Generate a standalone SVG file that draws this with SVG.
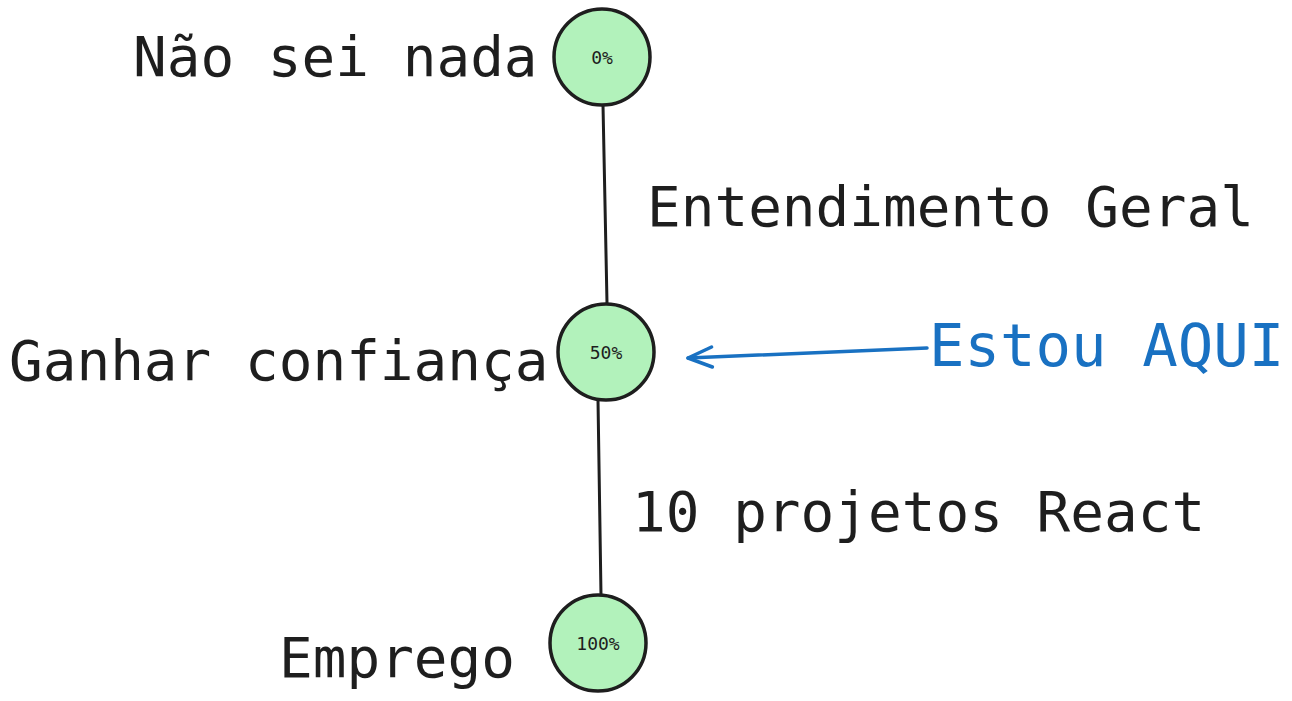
<svg xmlns="http://www.w3.org/2000/svg" width="1292" height="701" viewBox="0 0 1292 701">
<style>
.node{fill:#b2f2bb;stroke:#1e1e1e;stroke-width:3.5}
.big{font-family:"DejaVu Sans Mono","Liberation Mono",monospace;font-size:56px;fill:#1e1e1e}
.small{font-family:"DejaVu Sans Mono","Liberation Mono",monospace;font-size:18px;fill:#1e1e1e;text-anchor:middle}
.edge{stroke:#1e1e1e;stroke-width:3;fill:none;stroke-linecap:round}
.blue{fill:#1971c2;font-size:59px}
</style>
<defs>
<marker id="arr" viewBox="0 0 30 26" refX="27" refY="13" markerWidth="30" markerHeight="26" markerUnits="userSpaceOnUse" orient="auto">
<path d="M3 3 L27 13 L3 23" fill="none" stroke="#1971c2" stroke-width="3.5" stroke-linecap="round" stroke-linejoin="round"/>
</marker>
</defs>
<g id="connectors">
<line class="edge" x1="603" y1="105" x2="607" y2="303"/>
<line class="edge" x1="598" y1="400" x2="601" y2="595"/>
<line x1="927" y1="348" x2="688" y2="358" stroke="#1971c2" stroke-width="3.5" stroke-linecap="round" marker-end="url(#arr)"/>
</g>
<g id="n0">
<circle class="node" cx="602" cy="57" r="48"/>
<text class="small" x="602" y="64">0%</text>
</g>
<g id="n50">
<circle class="node" cx="606" cy="352" r="48"/>
<text class="small" x="606" y="359">50%</text>
</g>
<g id="n100">
<circle class="node" cx="598" cy="643" r="48"/>
<text class="small" x="598" y="650">100%</text>
</g>
<g id="labels">
<text class="big" x="133" y="76">Não sei nada</text>
<text class="big" x="647" y="226">Entendimento Geral</text>
<text class="big" x="9" y="380">Ganhar confiança</text>
<text class="big blue" x="929" y="366">Estou AQUI</text>
<text class="big" x="632" y="531">10 projetos React</text>
<text class="big" x="279" y="677">Emprego</text>
</g>
</svg>
